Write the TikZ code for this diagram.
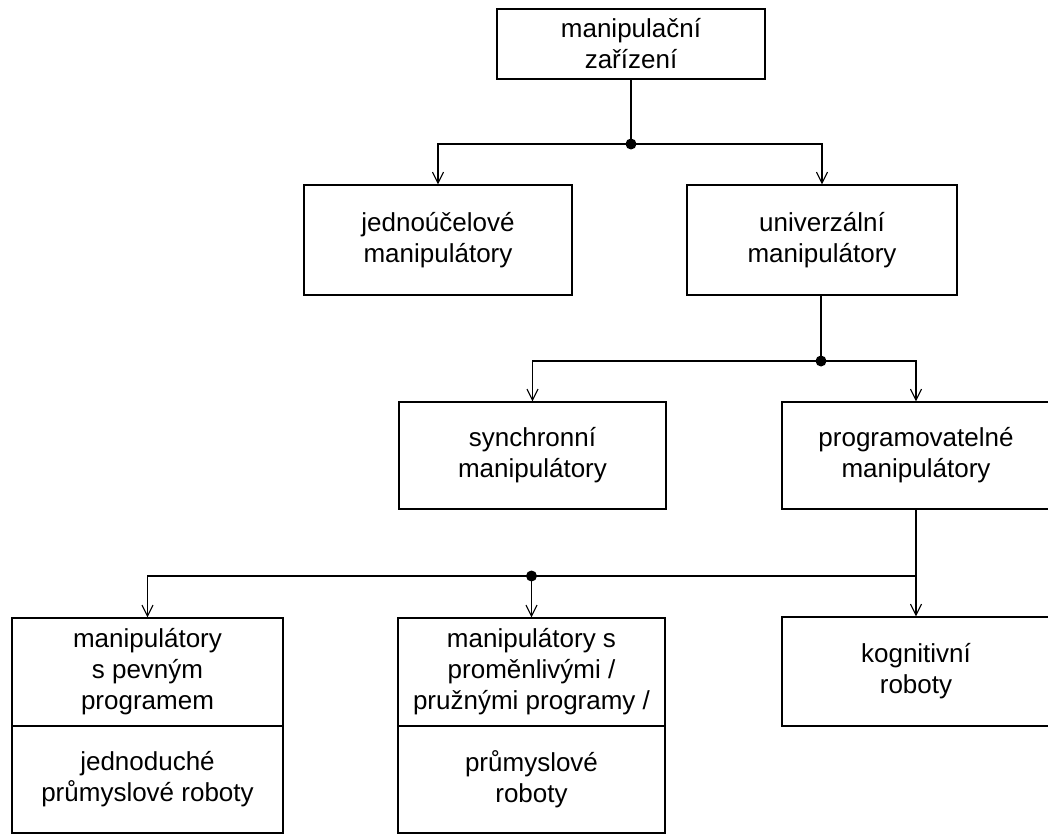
\documentclass[tikz,border=0pt]{standalone}
\usepackage{fontspec}
\setmainfont{Liberation Sans}
\usetikzlibrary{arrows.meta}
\begin{document}
\begin{tikzpicture}[x=1pt,y=-1pt,
  box/.style={draw, line width=1.4pt, rectangle, align=center, inner sep=0pt,
    font=\fontsize{26}{31}\selectfont},
  conn/.style={line width=1.3pt},
  arr/.style={conn, -{Straight Barb[length=11pt,width=11pt,line width=1.1pt]}},
  jdot/.style={circle, fill, inner sep=0pt, minimum size=11pt}]
\useasboundingbox (0,0) rectangle (1048,834);
\fill[white] (0,0) rectangle (1048,834);
\clip (0,0) rectangle (1048,834);

% row 1
\node[box, minimum width=268, minimum height=70] (top) at (631,44) {manipulační\\zařízení};
% row 2
\node[box, minimum width=268, minimum height=110] (jedno) at (438,240) {jednoúčelové\\manipulátory};
\node[box, minimum width=270, minimum height=110] (univ) at (822,240) {univerzální\\manipulátory};
% row 3
\node[box, minimum width=267, minimum height=107] (sync) at (532.5,455.5) {synchronní\\manipulátory};
\node[box, minimum width=268, minimum height=107] (prog) at (916,455.5) {programovatelné\\manipulátory};
% row 4
\node[box, minimum width=271, minimum height=108] (pevny) at (147.5,672) {manipulátory\\s pevným\\programem};
\node[box, minimum width=271, minimum height=107] (jednod) at (147.5,779.5) {jednoduché\\průmyslové roboty};
\node[box, minimum width=267, minimum height=108] (prom) at (531.5,672) {manipulátory s\\proměnlivými /\\pružnými programy /};
\node[box, minimum width=267, minimum height=107] (prum) at (531.5,779.5) {průmyslové\\roboty};
\node[box, minimum width=268, minimum height=109] (kogn) at (916,671.5) {kognitivní\\roboty};

% junctions
\node[jdot] (j1) at (631,144) {};
\node[jdot] (j2) at (821,361) {};
\coordinate (c3) at (916,576);
\node[jdot] (j3) at (531.5,576) {};

% connectors
\draw[conn] (top.south) -- (j1.center);
\draw[arr] (j1.center) -| (jedno.north);
\draw[arr] (j1.center) -| (univ.north);

\draw[conn] (univ.south -| j2) -- (j2.center);
\draw[arr] (j2.center) -| (sync.north);
\draw[arr] (j2.center) -| (prog.north);

\draw[conn] (prog.south) -- (c3);
\draw[arr] (c3) -- (kogn.north);
\draw[arr] (c3) -| (pevny.north);
\draw[arr] (j3.center) -- (prom.north);
\end{tikzpicture}
\end{document}
